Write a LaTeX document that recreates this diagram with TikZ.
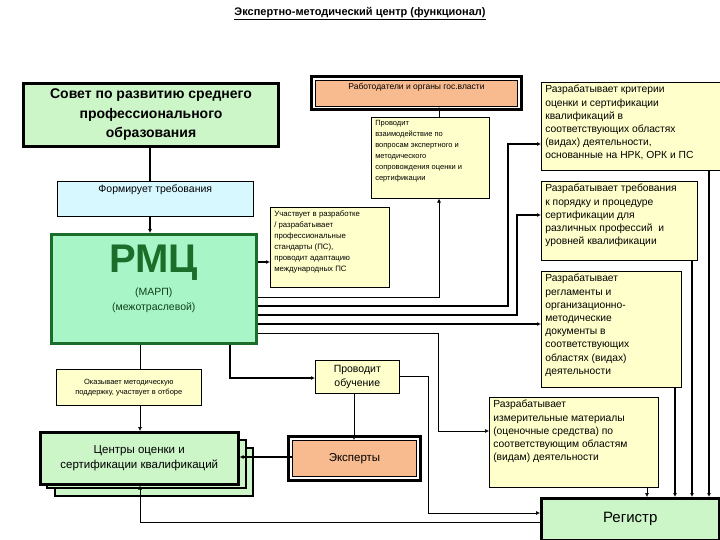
\documentclass[tikz,border=0pt]{standalone}
\usepackage{fontspec}
\setmainfont{Liberation Sans}
\usetikzlibrary{arrows.meta}
\definecolor{lgreen}{HTML}{CCF5C8}
\definecolor{lcyan}{HTML}{D8F8FF}
\definecolor{mint}{HTML}{A8F5C8}
\definecolor{dgreen}{HTML}{1A6E2A}
\definecolor{orng}{HTML}{F8BB90}
\definecolor{ylw}{HTML}{FFFFCC}
\newcommand\bx[8]{%
 \pgfmathsetlengthmacro\bxw{#4-#2-8}%
 \pgfmathsetlengthmacro\bxh{#5-#3-6}%
 \node[box,#6,minimum width={#4-#2},minimum height={#5-#3},anchor=north west] (#1) at (#2,#3) {\parbox[c][\bxh][#7]{\bxw}{#8}};}
\tikzset{
 box/.style={draw=black,line width=0.6pt,inner sep=0pt,fill=ylw},
 thin/.style={line width=0.6pt},
 thk/.style={line width=1.6pt},
 arr/.style={-{Latex[length=4pt,width=4pt]}},
}
\begin{document}
\begin{tikzpicture}[x=1pt,y=-1pt]
\useasboundingbox (0,0) rectangle (720,540);
\node (title) at (360,14) {\bfseries\fontsize{11}{13}\selectfont\underline{Экспертно-методический центр (функционал)}};
% left column
\bx{sovet}{22}{82}{277}{145}{fill=lgreen,line width=3pt}{c}{\centering\bfseries\fontsize{14}{19.5}\selectfont Совет по развитию среднего\\ профессионального\\ образования}
\bx{form}{57}{181}{253}{216}{fill=lcyan}{t}{\centering\fontsize{10.5}{12}\selectfont Формирует требования}
\bx{rmc}{50}{233}{255}{342}{fill=mint,draw=dgreen,line width=2.5pt}{t}{\centering\vspace*{8pt}{\bfseries\fontsize{40}{42}\selectfont\color{dgreen}РМЦ}\\[6pt]\fontsize{10.5}{15}\selectfont\color{dgreen!60!black}(МАРП)\\(межотраслевой)}
\bx{okaz}{56}{369}{201}{405}{}{c}{\centering\fontsize{7.5}{10}\selectfont Оказывает методическую\\ поддержку, участвует в отборе}
\fill[lgreen,draw=black,line width=2pt] (55,448) rectangle (253,496);
\fill[lgreen,draw=black,line width=2pt] (47,440) rectangle (246,488);
\bx{centr}{39}{431}{237}{483}{fill=lgreen,line width=2.5pt}{c}{\centering\fontsize{11.5}{15}\selectfont Центры оценки и\\ сертификации квалификаций}
% middle
\bx{rab}{315}{80}{517}{106}{fill=orng,line width=1pt}{t}{\centering\fontsize{8.5}{10}\selectfont Работодатели и органы гос.власти}
\draw[line width=3pt] (311,77) rectangle (521,110);
\bx{vz}{371}{117}{489}{198}{}{t}{\raggedright\fontsize{7.5}{11}\selectfont Проводит\\ взаимодействие по\\ вопросам экспертного и\\ методического\\ сопровождения оценки и\\ сертификации}
\bx{uch}{270}{207}{389}{287}{}{t}{\raggedright\fontsize{7.8}{11}\selectfont Участвует в разработке\\ / разрабатывает\\ профессиональные\\ стандарты (ПС),\\ проводит адаптацию\\ международных ПС}
\bx{obuch}{315}{360}{399}{393}{}{c}{\centering\fontsize{10.5}{14}\selectfont Проводит\\ обучение}
\bx{exp}{292}{440}{416}{476}{fill=orng,line width=1pt}{c}{\centering\fontsize{11.5}{13}\selectfont Эксперты}
\draw[line width=3pt] (288,436) rectangle (420,480);
% right column
\bx{krit}{541}{82}{720}{170}{}{t}{\raggedright\fontsize{10.3}{13.2}\selectfont Разрабатывает критерии\\ оценки и сертификации\\ квалификаций в\\ соответствующих областях\\ (видах) деятельности,\\ основанные на НРК, ОРК и ПС}
\bx{treb}{541}{181}{697}{260}{}{t}{\raggedright\fontsize{10.3}{13.2}\selectfont Разрабатывает требования\\ к порядку и процедуре\\ сертификации для\\ различных профессий\ \ и\\ уровней квалификации}
\bx{regl}{541}{271}{681}{387}{}{t}{\raggedright\fontsize{10.3}{13.2}\selectfont Разрабатывает\\ регламенты и\\ организационно-\\ методические\\ документы в\\ соответствующих\\ областях (видах)\\ деятельности}
\bx{izm}{489}{397}{658}{487}{}{t}{\raggedright\fontsize{10.3}{13.2}\selectfont Разрабатывает\\ измерительные материалы\\ (оценочные средства) по\\ соответствующим областям\\ (видам) деятельности}
\bx{reg}{540}{497}{718}{539}{fill=lgreen,line width=2.5pt}{c}{\centering\fontsize{15}{17}\selectfont Регистр}
% connectors
\draw[thk] (sovet.south -| 150,0) -- (form.north -| 150,0);
\draw[thk,arr] (form.south -| 150,0) -- (rmc.north -| 150,0);
\draw[thk,arr] (rmc.east |- 0,262) -- (uch.west |- 0,262);
\draw[thin,arr] (rmc.east |- 0,297) -| (vz.south -| 439,0);
\draw[thin,arr] (vz.north -| 439,0) -- (rab.south -| 439,0);
\draw[thk,arr] (rmc.east |- 0,306) -| (508,144) -- (krit.west |- 0,144);
\draw[thk,arr] (rmc.east |- 0,315) -| (517,215) -- (treb.west |- 0,215);
\draw[thk,arr] (rmc.east |- 0,324) -- (regl.west |- 0,324);
\draw[thin,arr] (rmc.east |- 0,333) -| (438,431) -- (izm.west |- 0,431);
\draw[thin] (rmc.south -| 140,0) -- (okaz.north -| 140,0);
\draw[thin,arr] (okaz.south -| 140,0) -- (centr.north -| 140,0);
\draw[thk,arr] (rmc.south -| 230,0) |- (obuch.west |- 0,378);
\draw[thin,arr] (obuch.south -| 354,0) -- (exp.north -| 354,0);
\draw[thin,arr] (obuch.east |- 0,376) -| (428,513) -- (reg.west |- 0,513);
\draw[thk,arr] (exp.west |- 0,457) -- (centr.east |- 0,457);
\draw[thin,arr] (reg.west |- 0,522) -| (centr.south -| 140,0);
\draw[thin,arr] (izm.south -| 647,0) -- (reg.north -| 647,0);
\draw[thk,arr] (regl.south -| 675,0) -- (reg.north -| 675,0);
\draw[thk,arr] (treb.south -| 692,0) -- (reg.north -| 692,0);
\draw[thk,arr] (krit.south -| 709,0) -- (reg.north -| 709,0);
\end{tikzpicture}
\end{document}
